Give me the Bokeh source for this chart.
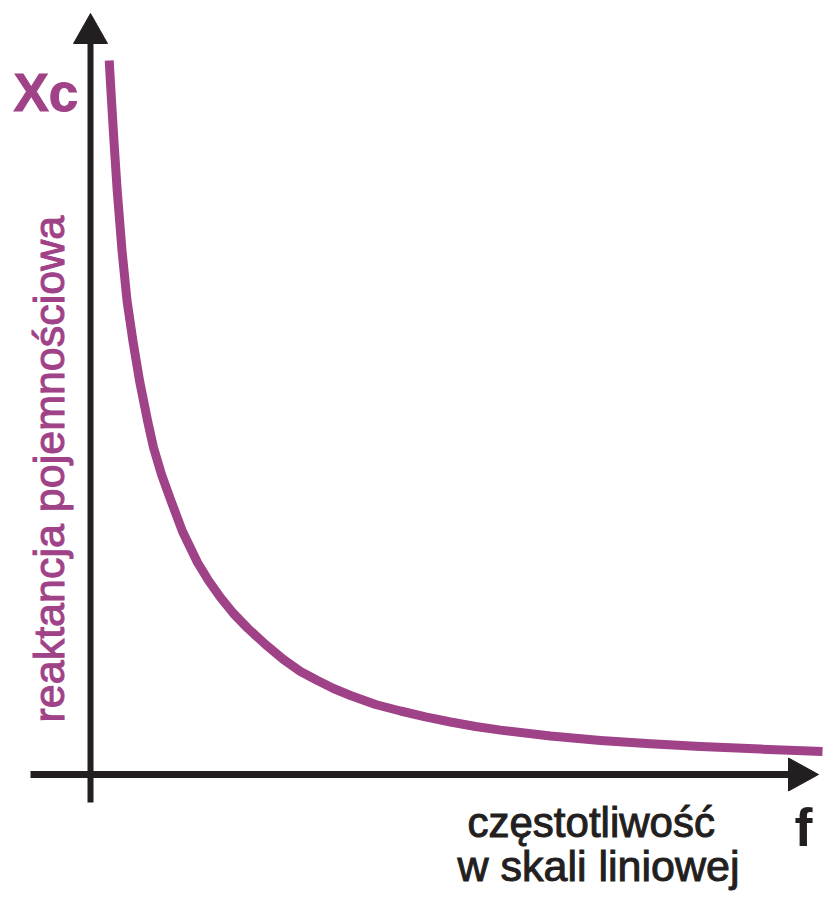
from bokeh.plotting import figure
from bokeh.models import Range1d
from bokeh.core.properties import value
from bokeh.embed import file_html
from bokeh.resources import INLINE

# ---- data (frequency in arbitrary linear units, reactance in arbitrary units)
freq = [0.187, 0.21, 0.24, 0.267, 0.315, 0.365, 0.425, 0.49, 0.57, 0.63, 0.71,
        0.80, 0.92, 1.07, 1.18, 1.30, 1.43, 1.57, 1.75, 1.93, 2.10, 2.27,
        2.43, 2.60, 2.85, 3.10, 3.35, 3.60, 3.85, 4.10, 4.60, 5.10, 5.60,
        6.10, 6.70, 7.32]
reactance = [7.14, 6.74, 6.25, 5.84, 5.24, 4.74, 4.33, 3.94, 3.54, 3.27, 3.00,
             2.75, 2.43, 2.12, 1.94, 1.77, 1.61, 1.465, 1.30, 1.15, 1.03, 0.94,
             0.86, 0.79, 0.70, 0.635, 0.576, 0.525, 0.48, 0.444, 0.385, 0.341, 0.307,
             0.280, 0.254, 0.23]

y_label = "Xc"
x_label = "f"
y_title = "reaktancja pojemnościowa"
x_title_lines = ["częstotliwość", "w skali liniowej"]

# axis extents (arrow lines) in data units
x_axis_start, x_axis_end = -0.60, 7.28
y_axis_start, y_axis_end = -0.28, 7.61

PURPLE = "#a04287"
BLACK = "#231f20"

p = figure(width=828, height=898,
           x_range=Range1d(-0.90, 7.38), y_range=Range1d(-1.24, 7.74),
           x_axis_type=None, y_axis_type=None,
           output_backend="svg", toolbar_location=None, min_border=0)
p.grid.visible = False
p.outline_line_color = None
p.background_fill_color = "white"
p.border_fill_color = "white"

# axes lines
head = 0.30
p.segment(x0=[0], y0=[y_axis_start], x1=[0], y1=[y_axis_end - head],
          line_color=BLACK, line_width=6)
p.segment(x0=[x_axis_start], y0=[0], x1=[x_axis_end - head], y1=[0],
          line_color=BLACK, line_width=7)
# arrow heads
p.patches(xs=[[0, -0.17, 0.17], [x_axis_end, x_axis_end - head, x_axis_end - head]],
          ys=[[y_axis_end, y_axis_end - head, y_axis_end - head], [0, 0.165, -0.165]],
          fill_color=BLACK, line_color=BLACK, line_width=1)

# curve
p.line(freq, reactance, line_width=9, line_color=PURPLE, line_cap="butt", line_join="round")

# labels
p.text(x=[-0.77], y=[6.82], text=[y_label], text_font=value("Liberation Sans"),
       text_font_style="bold", text_font_size="53px", text_color=PURPLE,
       text_outline_color=PURPLE,
       text_align="left", text_baseline="alphabetic")
p.text(x=[7.04], y=[-0.52], text=[x_label], text_font=value("Liberation Sans"),
       text_font_style="bold", text_font_size="54px", text_color=BLACK,
       text_align="left", text_baseline="alphabetic")
p.text(x=[-0.42], y=[0.52], text=[y_title], angle=[1.5707963],
       text_font=value("Liberation Sans"), text_font_size="43px", text_color=PURPLE,
       text_outline_color=PURPLE,
       text_align="left", text_baseline="alphabetic")
p.text(x=[3.77], y=[-0.48], text=[x_title_lines[0]],
       text_font=value("Liberation Sans"), text_font_size="42px", text_color=BLACK,
       text_outline_color=BLACK,
       text_align="left", text_baseline="alphabetic")
p.text(x=[3.67], y=[-0.915], text=[x_title_lines[1]],
       text_font=value("Liberation Sans"), text_font_size="43px", text_color=BLACK,
       text_outline_color=BLACK,
       text_align="left", text_baseline="alphabetic")

open("out.html", "w").write(file_html(p, INLINE))
